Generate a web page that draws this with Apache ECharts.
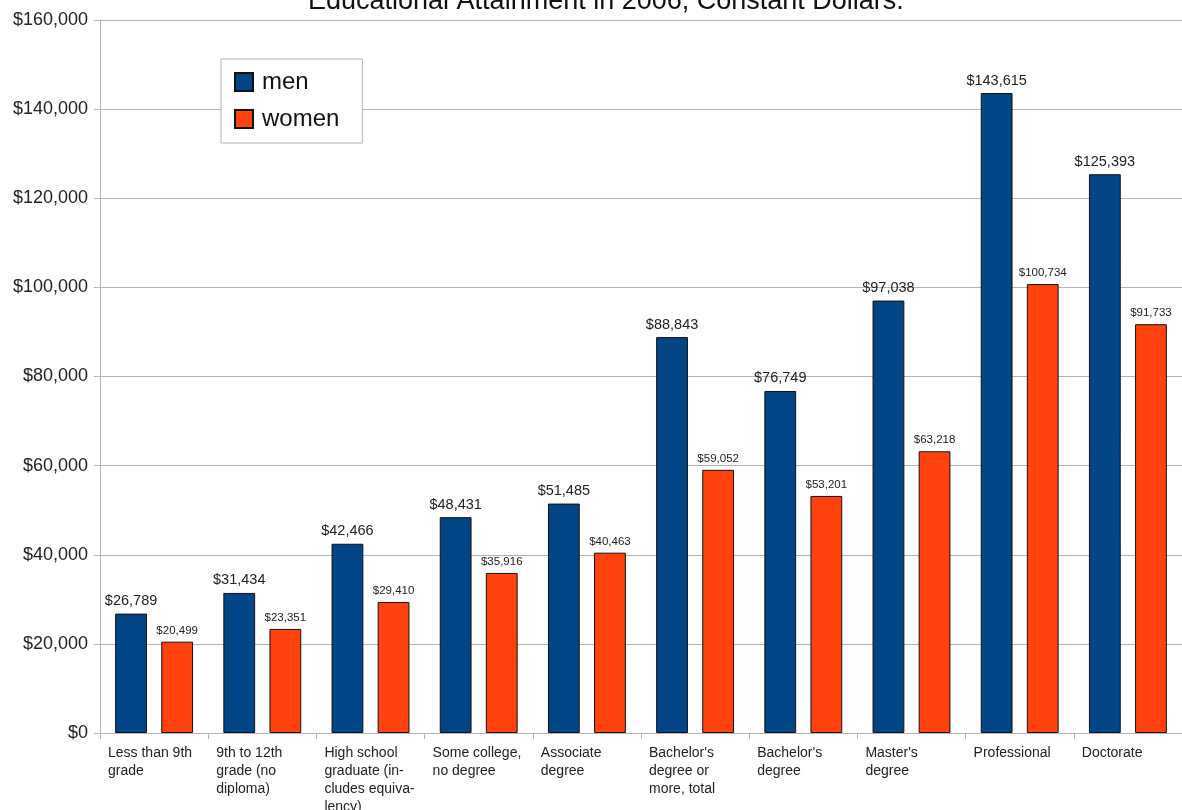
<!DOCTYPE html>
<html>
<head>
<meta charset="utf-8">
<script src="https://cdn.jsdelivr.net/npm/echarts@6/dist/echarts.min.js"></script>
<style>
  html, body { margin: 0; padding: 0; background: #fff; overflow: hidden; }
  #chart { width: 1182px; height: 810px; }
</style>
</head>
<body>
<div id="chart"></div>
<script>
const categories = [
  "Less than 9th\ngrade",
  "9th to 12th\ngrade (no\ndiploma)",
  "High school\ngraduate (in-\ncludes equiva-\nlency)",
  "Some college,\nno degree",
  "Associate\ndegree",
  "Bachelor's\ndegree or\nmore, total",
  "Bachelor's\ndegree",
  "Master's\ndegree",
  "Professional",
  "Doctorate"
];
const men = [26789, 31434, 42466, 48431, 51485, 88843, 76749, 97038, 143615, 125393];
const women = [20499, 23351, 29410, 35916, 40463, 59052, 53201, 63218, 100734, 91733];

const font = "Liberation Sans, Arial, sans-serif";
const money = v => "$" + v.toLocaleString("en-US");

const chart = echarts.init(document.getElementById("chart"));
chart.setOption({
  animation: false,
  textStyle: { fontFamily: font },
  title: {
    text: "Educational Attainment in 2006, Constant Dollars.",
    left: 303,
    top: -17,
    textStyle: { fontSize: 27, fontWeight: "normal", color: "#111", fontFamily: font }
  },
  legend: {
    orient: "vertical",
    left: 221,
    top: 59,
    padding: [11, 23, 12, 13],
    itemGap: 13,
    itemWidth: 18,
    itemHeight: 18,
    icon: "rect",
    backgroundColor: "#fff",
    borderColor: "#b3b3b3",
    borderWidth: 1,
    textStyle: { fontSize: 24, color: "#111", fontFamily: font, padding: [0, 0, 0, 4] }
  },
  grid: { left: 100, right: 0, top: 20, bottom: 77, outerBoundsMode: "none", containLabel: false },
  xAxis: [
    {
      type: "category",
      data: categories,
      axisLine: { show: true, lineStyle: { color: "#b3b3b3" } },
      axisTick: { show: true, length: 6, lineStyle: { color: "#b3b3b3" } },
      axisLabel: { show: false }
    },
    {
      type: "category",
      position: "bottom",
      boundaryGap: false,
      data: categories.concat([""]),
      axisLine: { show: false },
      axisTick: { show: false },
      axisLabel: {
        interval: 0,
        align: "left",
        margin: 11,
        padding: [0, 0, 0, 8],
        fontSize: 14,
        lineHeight: 18,
        color: "#222",
        fontFamily: font
      }
    }
  ],
  yAxis: {
    type: "value",
    min: 0,
    max: 160000,
    interval: 20000,
    axisLine: { show: true, lineStyle: { color: "#b3b3b3" } },
    axisTick: { show: true, length: 6, lineStyle: { color: "#b3b3b3" } },
    splitLine: { lineStyle: { color: "#b3b3b3" } },
    axisLabel: { formatter: money, fontSize: 18, color: "#222", margin: 12, fontFamily: font }
  },
  series: [
    {
      name: "men",
      type: "bar",
      data: men,
      barGap: "45%",
      barCategoryGap: "28%",
      itemStyle: { color: "#004586", borderColor: "#111", borderWidth: 1 },
      label: {
        show: true,
        position: "top",
        formatter: p => money(p.value),
        fontSize: 14.5,
        color: "#222",
        fontFamily: font
      }
    },
    {
      name: "women",
      type: "bar",
      data: women,
      itemStyle: { color: "#ff420e", borderColor: "#111", borderWidth: 1 },
      label: {
        show: true,
        position: "top",
        formatter: p => money(p.value),
        fontSize: 11.5,
        color: "#222",
        fontFamily: font
      }
    }
  ]
});
</script>
</body>
</html>
